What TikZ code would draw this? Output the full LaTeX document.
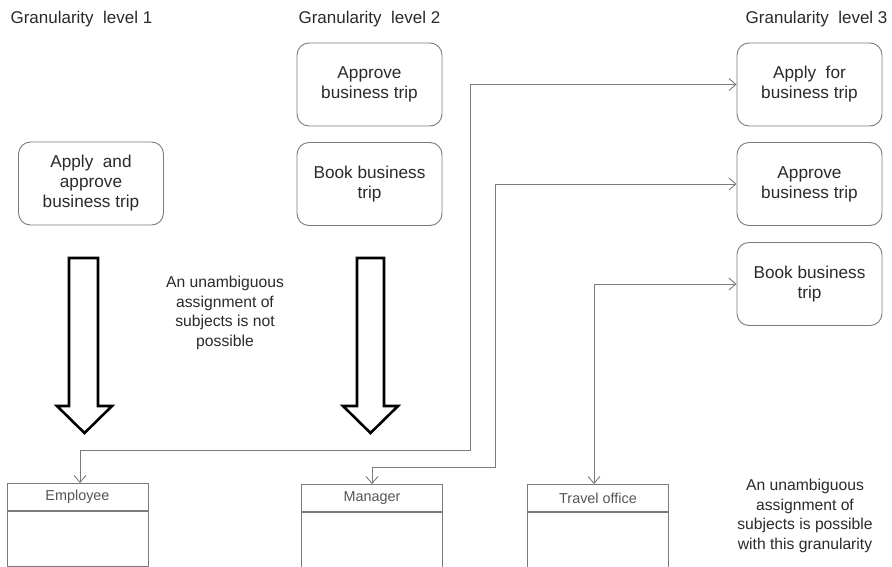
\documentclass[tikz,border=0pt]{standalone}
\usepackage{fontspec}
\setmainfont{Liberation Sans}
\usetikzlibrary{arrows.meta,positioning}
\definecolor{boxgray}{HTML}{7A7A7A}
\definecolor{txt}{HTML}{2A2A2A}
\tikzset{
  act/.style={draw=boxgray, line width=0.9pt, rounded corners=12pt, minimum width=145pt, minimum height=83pt, align=center, text=txt, font=\fontsize{17.2}{20}\selectfont, inner sep=2pt},
  subjhead/.style={draw=boxgray, line width=0.9pt, minimum width=141pt, minimum height=27pt, inner sep=0pt, text=txt!80, font=\fontsize{14.4}{16}\selectfont},
  subjbody/.style={draw=boxgray, line width=0.9pt, minimum width=141pt, minimum height=55pt, inner sep=0pt},
  conn/.style={draw=boxgray, line width=0.9pt, {Straight Barb[length=7pt,width=12pt]}-{Straight Barb[length=7pt,width=12pt]}},
  bigarrow/.style={draw=black, line width=2.6pt, fill=white, line join=miter},
  lbl/.style={align=center, text=txt, font=\fontsize{17}{20}\selectfont},
  note/.style={align=center, text=txt, font=\fontsize{15.7}{19.5}\selectfont},
}
\begin{document}
\begin{tikzpicture}[x=1pt,y=-1pt]
\useasboundingbox (0,0) rectangle (892,566);
% headers
\node[lbl, anchor=west] (h1) at (7,19) {Granularity\ \ level 1};
\node[lbl, anchor=west] (h2) at (295,19) {Granularity\ \ level 2};
\node[lbl, anchor=east] (h3) at (891,19) {Granularity\ \ level 3};
% activity boxes
\node[act] (a1) at (91,183.5) {Apply\ \ and\\approve\\business trip};
\node[act] (b2) at (369.5,84.5) {Approve\\business trip};
\node[act] (c2) at (369.5,184) {Book business\\trip};
\node[act] (a3) at (809.5,84.5) {Apply\ \ for\\business trip};
\node[act] (b3) at (809.5,184) {Approve\\business trip};
\node[act] (c3) at (809.5,284) {Book business\\trip};
% notes
\node[note] (n1) at (225,313) {An unambiguous\\assignment of\\subjects is not\\possible};
\node[note] (n2) at (805,516) {An unambiguous\\assignment of\\subjects is possible\\with this granularity};
% big arrows
\draw[bigarrow] (69,258) -- (98,258) -- (98,406) -- (112,406) -- (84.5,433) -- (57,406) -- (69,406) -- cycle;
\draw[bigarrow] (357,258) -- (384,258) -- (384,406) -- (398,406) -- (370.5,433) -- (343,406) -- (357,406) -- cycle;
% subjects
\node[subjhead] (emp) at (77.5,497) {Employee};
\node[subjbody, below=0pt of emp] (empb) {};
\node[subjhead] (man) at (372,498) {Manager};
\node[subjbody, below=0pt of man] (manb) {};
\node[subjhead] (tra) at (598,498) {Travel office};
\node[subjbody, below=0pt of tra] (trab) {};
% connectors
\draw[conn] ([xshift=2.5pt]emp.north) |- (470,450) |- (a3.west);
\draw[conn] (man.north) |- (495,467) |- (b3.west);
\draw[conn] ([xshift=-4pt]tra.north) |- (c3.west);
\end{tikzpicture}
\end{document}
